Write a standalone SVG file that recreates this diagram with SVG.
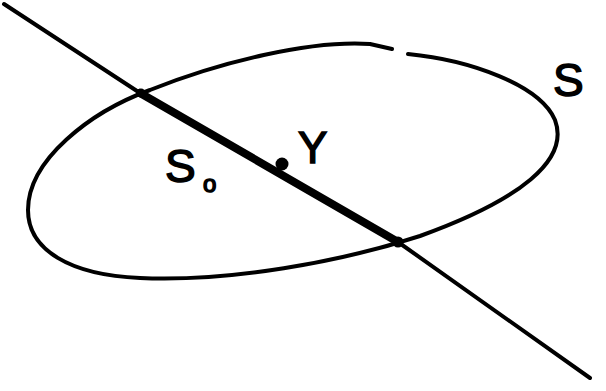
<svg xmlns="http://www.w3.org/2000/svg" width="606" height="391" viewBox="0 0 606 391">
<style>
.ln{fill:none;stroke:#000;stroke-linecap:round;stroke-linejoin:round}
.lbl{font-family:"Liberation Sans",sans-serif;fill:#000;stroke:#000;stroke-width:1.5}
</style>
<rect width="606" height="391" fill="#fff"/>
<g id="surface-S">
<path class="ln" stroke-width="4" d="M 408 54 C 470 60, 540 85, 555 120 C 570 160, 520 200, 420 236 C 340 262, 230 282, 140 278 C 70 275, 28 250, 28 210 C 28 160, 90 112, 150 90 C 220 62, 310 40, 370 44 L 392 49"/>
<text class="lbl" x="553" y="96" font-size="46">S</text>
</g>
<g id="connectors">
<path class="ln" stroke-width="4" d="M 4 4 L 140 93 L 398 242 L 590 378"/>
<path class="ln" stroke-width="8" d="M 140 93 L 398 242"/>
<circle cx="282" cy="164" r="6.5"/>
<circle cx="398" cy="242" r="5.5"/>
<circle cx="141" cy="93" r="4.5"/>
</g>
<g id="S0">
<text class="lbl" x="165" y="182" font-size="46">S</text>
<text class="lbl" x="203" y="192" font-size="24">o</text>
</g>
<g id="Y">
<text class="lbl" x="298" y="163" font-size="44">Y</text>
</g>
</svg>
